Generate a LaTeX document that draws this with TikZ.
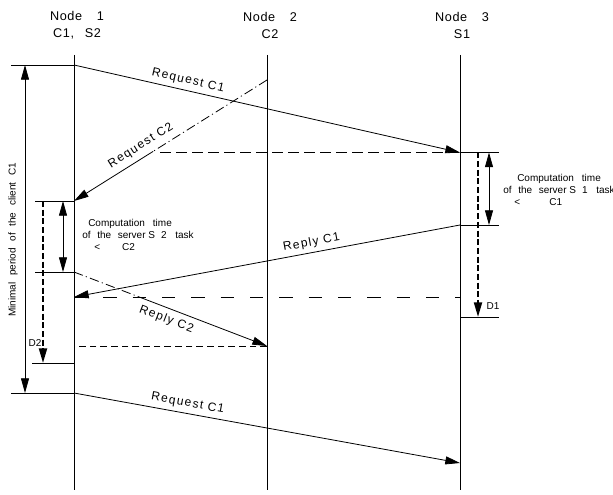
\documentclass[tikz,border=0pt]{standalone}
\usepackage{fontspec}
\setmainfont{Liberation Sans}
\usetikzlibrary{arrows.meta,calc}
\begin{document}
\begin{tikzpicture}[x=0.75pt,y=-0.75pt,
  ln/.style={line width=0.6pt},
  lifeline/.style={line width=0.65pt},
  tipend/.style={-{Triangle[length=11pt,width=6pt]}},
  tipboth/.style={{Triangle[length=11pt,width=6pt]}-{Triangle[length=11pt,width=6pt]}},
  dashdot/.style={dash pattern=on 7pt off 2.5pt on 0.8pt off 2.5pt},
  shortdash/.style={dash pattern=on 8pt off 4pt},
  finedash/.style={dash pattern=on 5pt off 3pt},
  longdash/.style={dash pattern=on 10pt off 12pt},
  thickdash/.style={line width=1.5pt,dash pattern=on 4.5pt off 2pt},
  title/.style={font=\fontsize{9.5pt}{12.75pt}\selectfont\addfontfeatures{LetterSpace=5},align=center,inner sep=0pt},
  msg/.style={font=\fontsize{9pt}{11pt}\selectfont\addfontfeatures{LetterSpace=11},inner sep=0pt},
  small/.style={font=\fontsize{7.5pt}{9pt}\selectfont,inner sep=0pt,align=left},
]
\useasboundingbox (0,0) rectangle (613,495);

% titles
\node[title] (t1) at (77,25) {Node\hspace{11pt}1\\C1,\hspace{8pt}S2};
\node[title] (t2) at (270,25) {Node\hspace{11pt}2\\C2};
\node[title] (t3) at (462,25) {Node\hspace{11pt}3\\S1};

% lifelines
\coordinate (L1t) at (74,55);  \coordinate (L1b) at (74,490);
\coordinate (L2t) at (267,55); \coordinate (L2b) at (267,490);
\coordinate (L3t) at (460,55); \coordinate (L3b) at (460,490);
\draw[lifeline] (L1t) -- (L1b);
\draw[lifeline] (L2t) -- (L2b);
\draw[lifeline] (L3t) -- (L3b);

% event points
\coordinate (P1) at (74,65);
\coordinate (R2) at (74,201);
\coordinate (S2) at (74,272);
\coordinate (A1) at (74,297);
\coordinate (D2e) at (74,363);
\coordinate (Q1) at (74,393);
\coordinate (C2s) at (267,80);
\coordinate (A2) at (267,346);
\coordinate (B1) at (460,152.5);
\coordinate (E1) at (460,225);
\coordinate (F1) at (460,317);
\coordinate (A3) at (460,297);
\coordinate (B2) at (460,463);
\coordinate (H1) at (160,152.5);

% ticks
\coordinate (P0) at (11,65);
\coordinate (Q0) at (11,393);
\coordinate (R0) at (35,201);
\coordinate (S0) at (35,272);
\coordinate (D0) at (32,363);
\coordinate (B1r) at (499,152.5);
\coordinate (E1r) at (499,225);
\coordinate (F1r) at (499,317);
\draw[ln] (P0) -- (P1);
\draw[ln] (Q0) -- (Q1);
\draw[ln] (R0) -- (R2);
\draw[ln] (S0) -- (S2);
\draw[ln] (D0) -- (D2e);
\draw[ln] (B1) -- (B1r);
\draw[ln] (E1) -- (E1r);
\draw[ln] (F1) -- (F1r);

% minimal period
\coordinate (MPa) at (25,65);
\coordinate (MPb) at (25,393);
\draw[ln,tipboth] (MPa) -- (MPb);
\node[small,rotate=90] (mp) at (13,240) {Minimal\hspace{5pt}period\hspace{5pt}of\hspace{5pt}the\hspace{5pt}client\hspace{5pt}C1};

% node 1 computation
\coordinate (N1a) at (63,201);
\coordinate (N1b) at (63,272);
\draw[ln,tipboth] (N1a) -- (N1b);
\coordinate (N1c) at (43,201);
\coordinate (N1d) at (43,363);
\draw[thickdash,tipend] (N1c) -- (N1d);
\node[small] (d2) at (35,343) {D2};
\node[small,anchor=west] (ct2) at (82,235) {\hspace*{4.5pt}Computation\hspace{6pt}time\\of\hspace{5pt}the\hspace{5pt}server S\hspace{4.5pt}2\hspace{6.5pt}task\\\hspace*{9pt}<\hspace{16.5pt}C2};

% node 3 computation
\coordinate (N3a) at (489,152.5);
\coordinate (N3b) at (489,225);
\draw[ln,tipboth] (N3a) -- (N3b);
\coordinate (N3c) at (478,152.5);
\coordinate (N3d) at (478,317);
\draw[thickdash,tipend] (N3c) -- (N3d);
\node[small] (d1) at (493,306) {D1};
\node[small,anchor=west] (ct1) at (503,190) {\hspace*{10.5pt}Computation\hspace{6pt}time\\of\hspace{5pt}the\hspace{5pt}server S\hspace{4.5pt}1\hspace{6.5pt}task\\\hspace*{8.25pt}<\hspace{22pt}C1};

% Request C1
\draw[ln,tipend] (P1) -- node[msg,sloped,above=3pt,pos=0.29] {Request C1} (B1);
\draw[ln,shortdash] (H1) -- (B1);

% Request C2
\coordinate (C2m) at ($(C2s)!0.59!(R2)$);
\draw[ln,dashdot] (C2s) -- (C2m);
\draw[ln,tipend] (C2m) -- node[msg,sloped,above=4pt,pos=0.08] {Request C2} (R2);

% Reply C1
\draw[ln,tipend] (E1) -- node[msg,sloped,above=3pt,pos=0.38] {Reply C1} (A1);
\draw[ln,longdash] (A1) -- (A3);

% Reply C2
\coordinate (S2m) at ($(S2)!0.35!(A2)$);
\draw[ln,dashdot] (S2) -- (S2m);
\draw[ln,tipend] (S2m) -- node[msg,sloped,below=4pt,pos=0.23] {Reply C2} (A2);
\draw[ln,finedash] (A2) -- (A1 |- A2);

% Request C1 (second)
\draw[ln,tipend] (Q1) -- node[msg,sloped,above=3pt,pos=0.29] {Request C1} (B2);
\end{tikzpicture}
\end{document}
